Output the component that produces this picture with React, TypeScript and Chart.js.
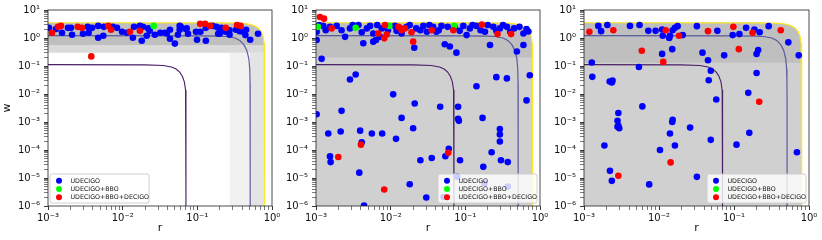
import React, { useEffect, useRef } from 'react';
import { Chart, registerables } from 'chart.js';

Chart.register(...registerables);
Chart.defaults.font.family = "'DejaVu Sans', sans-serif";

type P = [number, number];

// ---------- tick labels ----------
const X_TICK_VALUES = [1e-3, 1e-2, 1e-1, 1];
const X_TICK_LABELS = ['10⁻³', '10⁻²', '10⁻¹', '10⁰'];
const Y_TICK_VALUES = [1e-6, 1e-5, 1e-4, 1e-3, 1e-2, 1e-1, 1, 10];
const Y_TICK_LABELS = ['10⁻⁶', '10⁻⁵', '10⁻⁴', '10⁻³', '10⁻²', '10⁻¹', '10⁰', '10¹'];
const MINOR_MULTIPLIERS = [2, 3, 4, 5, 6, 7, 8, 9];

const SERIES_LABELS = ['UDECIGO', 'UDECIGO+BBO', 'UDECIGO+BBO+DECIGO'];
const SERIES_COLORS = ['#0000ff', '#00ff00', '#ff0000'];

// ---------- contour curves (r, w) ----------
const CURVE_INNER: P[] = [
  [1e-3, 0.112], [0.02, 0.11], [0.035, 0.104], [0.045, 0.092], [0.052, 0.078], [0.058, 0.06],
  [0.063, 0.043], [0.067, 0.027], [0.0695, 0.014], [0.0703, 0.006], [0.0705, 0.002], [0.0705, 1e-6],
];
const CURVE_MID: P[] = [
  [1e-3, 1.22], [0.1, 1.2], [0.2, 1.16], [0.25, 1.13], [0.32, 1.0], [0.37, 0.82], [0.42, 0.58],
  [0.46, 0.36], [0.49, 0.18], [0.503, 0.08], [0.508, 0.025], [0.51, 0.005], [0.51, 1e-6],
];
const CURVE_OUTER: P[] = [
  [1e-3, 3.5], [0.2, 3.48], [0.35, 3.4], [0.45, 3.25], [0.55, 2.9], [0.64, 2.35], [0.71, 1.75],
  [0.76, 1.15], [0.785, 0.65], [0.795, 0.3], [0.8, 0.1], [0.8, 1e-6],
];

// ---------- gray sample regions ----------
const P1_BAND_LOW = 0.55;
const P1_FADE_LOW = 0.3;
const P1_FADE_TOP: P[] = [[1e-3, 0.55], [0.79, 0.55]];
const P1_SPARSE_A: P[] = [[0.27, 0.3], [0.5, 0.3]];
const P1_SPARSE_B: P[] = [[0.5, 0.3], [0.8, 0.3]];
const P2_BAND_LOW = 0.2;
const P3_BAND_LOW = 0.13;

// ---------- panel 1 ----------
const P1_BLUE: P[] = [
  [1.03e-3, 2.3], [1.54e-3, 1.54], [2.03e-3, 2.3], [2.1e-3, 1.31], [2.94e-3, 1.42], [3.4e-3, 2.5],
  [3.5e-3, 1.54], [3.9e-3, 2.3], [4.7e-3, 1.02], [4.7e-3, 2.7], [5.5e-3, 1.2], [8.4e-3, 2.3],
  [1.14e-2, 1.54], [1.42e-2, 2.5], [1.37e-2, 1.02], [1.8e-2, 0.8], [1.87e-2, 2.5], [2.1e-2, 1.2],
  [2.3e-2, 1.8], [2.7e-2, 1.31], [3.2e-2, 1.54], [3.7e-2, 1.54], [4.3e-2, 0.94], [5.0e-2, 0.63],
  [5.5e-2, 1.31], [6.0e-2, 2.5], [7.0e-2, 2.1], [7.5e-2, 1.42], [9.9e-2, 0.87], [0.13, 0.8],
  [0.13, 2.3], [0.16, 2.7], [0.18, 2.5], [0.19, 1.42], [0.21, 2.3], [0.27, 1.31], [0.41, 1.67],
  [0.51, 0.87], [0.65, 1.42], [1.7e-2, 2.7], [5.8e-2, 1.96], [0.24, 1.67], [0.33, 1.96],
  [9.6e-2, 1.67], [9.8e-3, 1.67], [7.4e-3, 2.5], [1.85e-3, 2.3], [1.28e-3, 2.1], [5.6e-3, 2.5],
  [4.3e-2, 1.96], [0.45, 1.96], [0.2, 1.96], [0.11, 1.67], [2.2e-2, 2.2], [3.9e-2, 1.45],
  [5.8e-2, 2.7], [7.2e-2, 2.2], [0.2, 1.45], [0.27, 1.9], [0.37, 1.76], [0.44, 1.27],
];
const P1_GREEN: P[] = [[2.6e-2, 2.7]];
const P1_RED: P[] = [
  [1.13e-3, 1.54], [1.36e-3, 2.5], [1.49e-3, 2.7], [2.5e-3, 2.5], [2.85e-3, 2.3], [6.4e-3, 2.7],
  [7.0e-3, 1.96], [1.25e-2, 1.67], [1.7e-2, 1.8], [0.109, 3.2], [0.127, 3.2], [0.148, 2.7],
  [0.24, 2.3], [0.34, 2.9], [0.38, 2.7], [3.8e-3, 0.22],
];

// ---------- panel 2 ----------
const P2_BLUE: P[] = [
  [1.02e-3, 1.67], [1.02e-3, 0.85], [1.25e-3, 2.7], [1.54e-3, 2.5], [1.89e-3, 2.7], [2.2e-3, 1.9],
  [2.45e-3, 1.1], [2.85e-3, 2.2], [3.7e-3, 2.9], [4.1e-3, 1.6], [4.8e-3, 2.2], [4.3e-3, 0.65],
  [5.3e-3, 2.7], [5.85e-3, 1.45], [5.85e-3, 0.74], [6.35e-3, 0.85], [7.2e-3, 1.1], [7.6e-3, 2.2],
  [1.14e-2, 2.7], [1.33e-2, 2.2], [1.4e-2, 1.45], [1.64e-2, 2.5], [2.07e-2, 0.45], [2.2e-2, 2.2],
  [2.74e-2, 2.7], [3.05e-2, 1.67], [3.7e-2, 2.5], [4.1e-2, 1.67], [4.8e-2, 2.7], [5.3e-2, 0.6],
  [6.2e-2, 0.5], [7.25e-2, 2.3], [7.6e-2, 0.3], [9.4e-2, 2.7], [0.104, 1.27], [0.115, 2.2],
  [0.141, 2.7], [0.183, 1.67], [0.214, 0.56], [0.237, 2.5], [0.29, 2.2], [0.36, 2.5], [0.4, 1.67],
  [0.49, 0.33], [0.6, 1.45], [0.6, 0.56],
  [1.1e-3, 2.9], [1.35e-3, 1.9], [3.1e-3, 2.9], [6.6e-3, 2.9], [9.2e-3, 1.9], [1.2e-2, 1.8],
  [1.8e-2, 2.9], [2.5e-2, 1.9], [3.3e-2, 2.9], [4.4e-2, 1.9], [5.8e-2, 2.5], [8.4e-2, 1.8],
  [0.125, 2.9], [0.16, 1.9], [0.2, 2.9], [0.26, 1.8], [0.32, 2.9], [0.45, 2.2], [0.53, 2.5],
  [0.66, 2.1], [0.7, 1.7],
  [1.19e-3, 0.18], [3.4e-3, 0.05], [2.85e-3, 0.033], [1.08e-2, 0.0097], [2.1e-2, 0.0046],
  [4.6e-2, 0.0035], [8.0e-2, 0.0035], [0.141, 0.019], [0.26, 0.04], [0.36, 0.036], [0.73, 0.047],
  [0.66, 0.0059], [1.02e-3, 0.0019], [2.2e-3, 0.0025], [1.4e-2, 0.0014], [8e-2, 0.0013],
  [0.17, 0.0014],
  [1.46e-3, 3.9e-4], [2.14e-3, 4.6e-4], [1.54e-3, 5.9e-5], [1.57e-3, 3.7e-5], [3.9e-3, 4.9e-4],
  [4.1e-3, 1.9e-4], [3.8e-3, 1.55e-5], [4.4e-3, 1.03e-6], [5.6e-3, 3.9e-4], [7.7e-3, 3.9e-4],
  [1.18e-2, 2.5e-4], [1.8e-2, 6.0e-6], [2.0e-2, 6.0e-4], [2.5e-2, 4.3e-5], [3.0e-2, 2.0e-6],
  [3.55e-2, 5.2e-5], [5.4e-2, 6.0e-5], [6.0e-2, 1.1e-4], [8.2e-2, 1.1e-3], [8.5e-2, 4.3e-5],
  [7.8e-2, 1.1e-5], [0.174, 2.5e-5], [0.225, 8.3e-5], [0.29, 5.6e-4], [0.29, 3.6e-4],
  [0.29, 2.0e-4], [0.3, 4.3e-5], [0.37, 3.7e-5], [0.37, 5e-6], [0.18, 6.4e-6], [5.1e-2, 2.1e-6],
];
const P2_GREEN: P[] = [[1.06e-3, 2.5], [3.4e-3, 2.3], [9.6e-3, 2.7], [7.1e-2, 2.7]];
const P2_RED: P[] = [
  [1.13e-3, 5.6], [1.28e-3, 4.9], [1.62e-3, 2.2], [6.8e-3, 1.45], [8.4e-3, 2.9], [8.85e-3, 1.34],
  [8.2e-3, 0.97], [1.27e-2, 2.5], [1.4e-2, 1.9], [1.55e-2, 2.2], [1.9e-2, 1.6], [2.0e-2, 0.74],
  [3.55e-2, 1.9], [6.9e-2, 1.9], [0.166, 3.0], [0.27, 1.38], [0.41, 1.38],
  [1.99e-3, 5.6e-5], [4.0e-3, 1.55e-4], [8.2e-3, 3.9e-6], [5.9e-2, 7.9e-5],
];

// ---------- panel 3 ----------
const P3_BLUE: P[] = [
  [1.55e-3, 2.7], [1.69e-3, 1.76], [2.05e-3, 2.9], [4.1e-3, 2.7], [5.5e-3, 2.9], [7.2e-3, 1.8],
  [9.0e-3, 1.8], [1.1e-2, 2.0], [1.12e-2, 1.2], [1.4e-2, 1.2], [1.52e-2, 1.9], [1.63e-2, 2.3],
  [1.77e-2, 2.65], [1.37e-2, 1.0], [2.07e-2, 1.27], [3.2e-2, 2.65], [6.0e-2, 1.8], [9.6e-2, 1.27],
  [0.118, 1.38], [0.145, 2.3], [0.187, 2.0], [0.22, 1.6], [0.29, 2.65], [0.21, 0.37], [0.2, 0.27],
  [0.53, 0.7], [0.73, 0.24], [1.1e-2, 0.27], [1.5e-2, 0.4], [3.8e-2, 0.3], [7.4e-2, 0.24],
  [4.5e-2, 0.16], [1.27e-3, 0.134], [5.4e-3, 0.092], [4.9e-2, 0.068], [4.6e-2, 0.031],
  [1.29e-3, 0.041], [2.2e-3, 0.028], [2.35e-3, 0.026], [2.4e-3, 0.03], [0.2, 0.056],
  [0.155, 0.011], [5.8e-2, 0.0064], [6.0e-3, 0.0036], [2.87e-3, 0.0021], [1.52e-2, 0.0012],
  [2.8e-3, 1.1e-3], [2.87e-3, 7.3e-4], [2.95e-3, 6.0e-4], [2.8e-3, 6.8e-4], [1.87e-3, 1.45e-4],
  [2.22e-3, 1.8e-5], [2.35e-3, 7.9e-6], [7.4e-3, 5.9e-6], [1.03e-2, 1e-4], [1.4e-2, 3.9e-4],
  [1.5e-2, 1.0e-3], [1.63e-2, 1.45e-4], [2.6e-2, 6.3e-4], [3.2e-2, 1.1e-5], [4.9e-2, 2.3e-4],
  [0.108, 1.55e-4], [0.16, 4.1e-4], [0.69, 8.3e-5],
];
const P3_GREEN: P[] = [];
const P3_RED: P[] = [
  [1.18e-3, 1.67], [2.46e-3, 1.9], [1.23e-2, 1.9], [1.85e-2, 1.2], [4.5e-2, 1.76], [9.8e-2, 2.5],
  [0.177, 1.54], [0.42, 1.9], [5.9e-3, 0.35], [1.14e-2, 0.14], [0.116, 0.4], [0.217, 0.0053],
  [2.87e-3, 1.2e-5], [1.43e-2, 3.6e-5],
];

// ---------- helpers ----------
const toXY = (pts: P[]) => pts.map(([x, y]) => ({ x, y }));

function bandFrom(curve: P[], low: number): P[] {
  const out: P[] = curve.filter((p) => p[1] > low);
  const cut = curve.find((p) => p[1] <= low) || curve[curve.length - 1];
  out.push([cut[0], low]);
  return out;
}

function lineDs(points: P[], color: string, width: number, order: number) {
  return {
    data: toXY(points), showLine: true, borderColor: color, borderWidth: width,
    pointRadius: 0, fill: false, order, tension: 0,
  };
}
function fillDs(points: P[], color: string, fill: any, order: number) {
  return {
    data: toXY(points), showLine: true, borderWidth: 0, borderColor: 'rgba(0,0,0,0)',
    backgroundColor: color, pointRadius: 0, fill, order, tension: 0,
  };
}
function pointDs(points: P[], idx: number, order: number) {
  return {
    label: SERIES_LABELS[idx], legendIndex: idx, data: toXY(points), showLine: false,
    pointRadius: 3.3, pointBackgroundColor: SERIES_COLORS[idx], backgroundColor: SERIES_COLORS[idx],
    pointBorderWidth: 0, borderWidth: 0, order,
  };
}

function buildLogTicks(minExp: number, maxExp: number) {
  const t: { value: number; major: boolean }[] = [];
  for (let e = minExp; e <= maxExp; e++) {
    t.push({ value: Math.pow(10, e), major: true });
    if (e < maxExp) MINOR_MULTIPLIERS.forEach((m) => t.push({ value: m * Math.pow(10, e), major: false }));
  }
  return t;
}
const labelFor = (values: number[], labels: string[]) => (v: any) => {
  const i = values.findIndex((x) => Math.abs(Math.log10(x) - Math.log10(Number(v))) < 1e-6);
  return i >= 0 ? labels[i] : '';
};
const isMajorCtx = (c: any) => {
  const v = c.tick ? c.tick.value : 1;
  const l = Math.log10(v);
  return Math.abs(l - Math.round(l)) < 1e-6;
};

const framePlugin = {
  id: 'frame',
  afterDraw(chart: any) {
    const { ctx, chartArea: a } = chart;
    ctx.save();
    ctx.strokeStyle = '#222';
    ctx.lineWidth = 0.8;
    ctx.strokeRect(a.left, a.top, a.right - a.left, a.bottom - a.top);
    ctx.restore();
  },
};

const miniLegend = {
  id: 'miniLegend',
  afterDatasetsDraw(chart: any, _args: any, opts: any) {
    if (!opts || !opts.side) return;
    const { ctx, chartArea: a } = chart;
    const items = chart.data.datasets
      .filter((d: any) => typeof d.legendIndex === 'number')
      .sort((p: any, q: any) => p.legendIndex - q.legendIndex);
    const w = 99, h = 29;
    const x0 = opts.side === 'left' ? a.left + 2 : a.right - 3 - w;
    const y0 = a.bottom - 3 - h;
    ctx.save();
    ctx.beginPath();
    const r = 2;
    ctx.moveTo(x0 + r, y0);
    ctx.lineTo(x0 + w - r, y0);
    ctx.arcTo(x0 + w, y0, x0 + w, y0 + r, r);
    ctx.lineTo(x0 + w, y0 + h - r);
    ctx.arcTo(x0 + w, y0 + h, x0 + w - r, y0 + h, r);
    ctx.lineTo(x0 + r, y0 + h);
    ctx.arcTo(x0, y0 + h, x0, y0 + h - r, r);
    ctx.lineTo(x0, y0 + r);
    ctx.arcTo(x0, y0, x0 + r, y0, r);
    ctx.closePath();
    ctx.fillStyle = 'rgba(255,255,255,0.8)';
    ctx.fill();
    ctx.strokeStyle = 'rgba(204,204,204,0.9)';
    ctx.lineWidth = 1;
    ctx.stroke();
    items.forEach((d: any, i: number) => {
      const cy = y0 + 6.7 + i * 8.3;
      ctx.beginPath();
      ctx.arc(x0 + 9, cy, 3, 0, Math.PI * 2);
      ctx.fillStyle = d.pointBackgroundColor;
      ctx.fill();
      ctx.fillStyle = '#111';
      ctx.font = "6.3px 'DejaVu Sans'";
      ctx.textBaseline = 'middle';
      ctx.textAlign = 'left';
      ctx.fillText(d.label, x0 + 20.5, cy + 0.3);
    });
    ctx.restore();
  },
};

type PanelDef = {
  left: number; width: number; padR: number; yTitle: boolean; legendSide: 'left' | 'right';
  blue: P[]; green: P[]; red: P[]; grays: any[];
};

const GRAY_BAND = '#bfbfbf';
const GRAY_SPECKLE = '#d0d0d0';

const PANELS: PanelDef[] = [
  {
    left: 0, width: 286, padR: 14, yTitle: true, legendSide: 'left',
    blue: P1_BLUE, green: P1_GREEN, red: P1_RED,
    grays: [
      fillDs(P1_SPARSE_A, '#f1f1f1', 'start', 9),
      fillDs(P1_SPARSE_B, '#e4e4e4', 'start', 9),
      fillDs(P1_FADE_TOP, '#dadada', { value: P1_FADE_LOW }, 8),
      fillDs(bandFrom(CURVE_OUTER, P1_BAND_LOW), GRAY_BAND, { value: P1_BAND_LOW }, 7),
    ],
  },
  {
    left: 268, width: 286, padR: 14, yTitle: false, legendSide: 'right',
    blue: P2_BLUE, green: P2_GREEN, red: P2_RED,
    grays: [
      fillDs(CURVE_OUTER, GRAY_SPECKLE, 'start', 9),
      fillDs(bandFrom(CURVE_OUTER, P2_BAND_LOW), GRAY_BAND, { value: P2_BAND_LOW }, 7),
    ],
  },
  {
    left: 536, width: 286, padR: 13, yTitle: false, legendSide: 'right',
    blue: P3_BLUE, green: P3_GREEN, red: P3_RED,
    grays: [
      fillDs(CURVE_OUTER, GRAY_SPECKLE, 'start', 9),
      fillDs(bandFrom(CURVE_OUTER, P3_BAND_LOW), GRAY_BAND, { value: P3_BAND_LOW }, 7),
    ],
  },
];

function buildConfig(p: PanelDef): any {
  const tickFont = { family: "'DejaVu Sans'", size: 10 };
  const gridCommon = {
    display: true, drawOnChartArea: false, drawTicks: true, tickLength: 4,
    color: '#222', tickColor: '#222', tickWidth: (c: any) => (isMajorCtx(c) ? 0.9 : 0.6),
  };
  return {
    type: 'scatter',
    data: {
      datasets: [
        pointDs(p.red, 2, 1),
        pointDs(p.green, 1, 2),
        pointDs(p.blue, 0, 3),
        lineDs(CURVE_OUTER, '#fde725', 1.2, 4),
        lineDs(CURVE_MID, 'rgba(70,72,150,0.85)', 1.2, 4),
        lineDs(CURVE_INNER, '#4b1f66', 1.1, 4),
        ...p.grays,
      ],
    },
    options: {
      animation: false,
      responsive: false,
      maintainAspectRatio: false,
      events: [],
      layout: { padding: { left: 0, right: p.padR, top: 8, bottom: 0 } },
      plugins: {
        legend: { display: false },
        tooltip: { enabled: false },
        miniLegend: { side: p.legendSide },
      },
      scales: {
        x: {
          type: 'logarithmic', min: 1e-3, max: 1, position: 'bottom',
          grid: gridCommon,
          border: { display: false },
          afterBuildTicks: (s: any) => { s.ticks = buildLogTicks(-3, 0); },
          afterFit: (s: any) => { s.height = 34; },
          ticks: {
            autoSkip: false, maxRotation: 0, minRotation: 0, padding: 2, color: '#111', font: tickFont,
            callback: labelFor(X_TICK_VALUES, X_TICK_LABELS),
          },
          title: {
            display: true, text: 'r', color: '#111',
            font: { family: "'DejaVu Sans'", size: 11 }, padding: { top: 0, bottom: 5 },
          },
        },
        y: {
          type: 'logarithmic', min: 1e-6, max: 10, position: 'left',
          grid: gridCommon,
          border: { display: false },
          afterBuildTicks: (s: any) => { s.ticks = buildLogTicks(-6, 1); },
          afterFit: (s: any) => { s.width = 48; },
          ticks: {
            autoSkip: false, padding: 4, color: '#111', font: tickFont,
            callback: labelFor(Y_TICK_VALUES, Y_TICK_LABELS),
          },
          title: {
            display: p.yTitle, text: 'w', color: '#111',
            font: { family: "'DejaVu Sans'", size: 11 }, padding: { top: 1, bottom: 0 },
          },
        },
      },
    },
    plugins: [framePlugin, miniLegend],
  };
}

function PanelChart({ panel }: { panel: PanelDef }) {
  const ref = useRef<HTMLCanvasElement>(null);
  useEffect(() => {
    if (!ref.current) return;
    const chart = new Chart(ref.current, buildConfig(panel));
    return () => chart.destroy();
  }, [panel]);
  return (
    <canvas
      ref={ref}
      width={panel.width}
      height={240}
      style={{ position: 'absolute', left: panel.left, top: 0, width: panel.width, height: 240 }}
    />
  );
}

export default function App() {
  return (
    <div style={{ position: 'fixed', left: 0, top: 0, width: 822, height: 240, background: '#fff', overflow: 'hidden' }}>
      {PANELS.map((p, i) => (
        <PanelChart key={i} panel={p} />
      ))}
    </div>
  );
}
